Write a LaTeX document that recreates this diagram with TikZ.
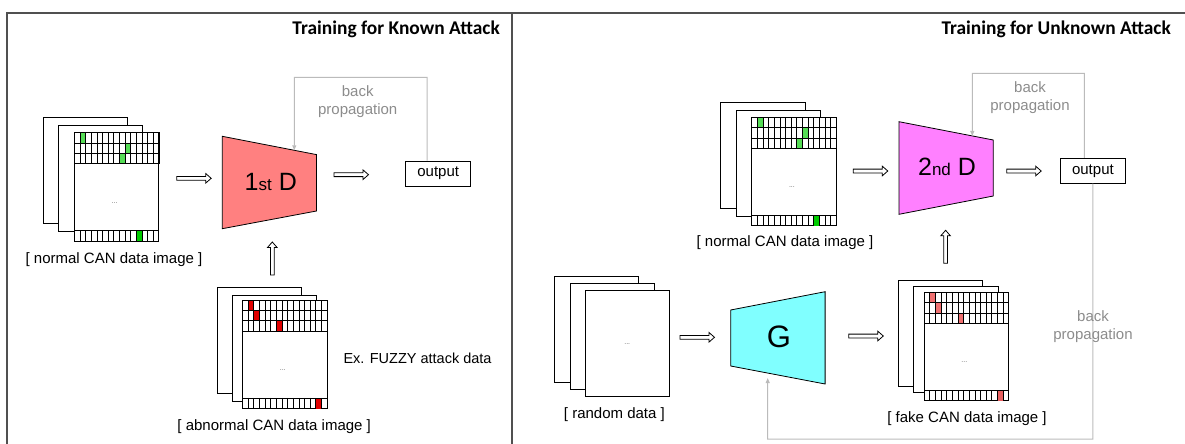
\documentclass[tikz,border=0pt]{standalone}
\usepackage{fontspec}
\setmainfont{Liberation Sans}
\newfontfamily\titlefont{Carlito}
\usetikzlibrary{calc,arrows.meta}
\definecolor{dOne}{HTML}{FF8080}
\definecolor{dTwo}{HTML}{FF80FF}
\definecolor{gCol}{HTML}{80FFFF}
\definecolor{bpline}{HTML}{BBBBBB}
\definecolor{bptext}{HTML}{8C8C8C}
\definecolor{frameCol}{HTML}{505050}
\definecolor{gTop}{HTML}{55DD55}
\definecolor{gBot}{HTML}{00CC00}
\definecolor{rTop}{HTML}{E00000}
\definecolor{rBot}{HTML}{E00000}
\definecolor{fTop}{HTML}{F07070}
\definecolor{fBot}{HTML}{E86060}
\tikzset{
  sheet/.style={draw=black, fill=white, line width=0.7pt},
  frontsheet/.style={sheet, minimum width=84.5pt, inner sep=0pt, outer sep=0pt},
  gridline/.style={draw=black, line width=0.6pt},
  dots/.style={font=\fontsize{7}{7}\selectfont, text=black!60, inner sep=0pt},
  lbl/.style={font=\fontsize{15}{18}\selectfont, text=black, inner sep=0pt},
  bp/.style={draw=bpline, line width=1pt},
  bptip/.style={-{Triangle[length=5pt,width=4pt]}},
  bptxt/.style={font=\fontsize{15}{18}\selectfont, text=bptext, align=center, inner sep=0pt},
  outbox/.style={draw=black, fill=white, line width=0.8pt, minimum width=65pt, minimum height=25pt, inner sep=0pt, font=\fontsize{15}{18}\selectfont},
  net/.style={draw=black, line width=0.8pt},
  frm/.style={draw=frameCol, line width=1.5pt},
  title/.style={font=\titlefont\bfseries\fontsize{19.4}{21}\selectfont, inner sep=0pt},
  dfont/.style={font=\fontsize{25}{25}\selectfont, inner sep=0pt},
  pics/rarrow/.style={code={\draw[net, fill=white, line join=miter] (0,-1.9) -- (29,-1.9) -- (29,-4.8) -- (34.5,0) -- (29,4.8) -- (29,1.9) -- (0,1.9) -- cycle;}},
  pics/uarrow/.style={code={\draw[net, fill=white, line join=miter] (-1.9,0) -- (-1.9,-27.5) -- (-4.8,-27.5) -- (0,-33) -- (4.8,-27.5) -- (1.9,-27.5) -- (1.9,0) -- cycle;}},
}
% name, back x, back y, mid x, mid y, front x, front y, front height
\newcommand{\canstack}[8]{%
  \draw[sheet] (#2,#3) rectangle ++(84.5,106);
  \draw[sheet] (#4,#5) rectangle ++(84.5,106);
  \node[frontsheet, minimum height=#8pt, anchor=north west] (#1) at (#6,#7) {};
}
% name, top colour, bottom colour, col row1, col row2, col row3, col bottom row
\newcommand{\cangrid}[7]{%
  \begin{scope}[shift={(#1.north west)}]
    \def\cellw{5.6333}
    \fill[#2] ({#4*\cellw},0) rectangle ++(\cellw,10.3);
    \fill[#2] ({#5*\cellw},10.3) rectangle ++(\cellw,10.3);
    \fill[#2] ({#6*\cellw},20.6) rectangle ++(\cellw,10.3);
    \fill[#3] ({#7*\cellw},97.8) rectangle ++(\cellw,10.7);
    \draw[gridline] (0,0) rectangle (84.5,30.9);
    \draw[gridline] (0,10.3) -- (84.5,10.3) (0,20.6) -- (84.5,20.6) (0,97.8) -- (84.5,97.8);
    \foreach \i in {1,...,14} {\draw[gridline] ({\i*\cellw},0) -- ++(0,30.9) ({\i*\cellw},97.8) -- ++(0,10.7);}
  \end{scope}
  \node[dots] at ($(#1.center)+(-2,16)$) {...};
}
\begin{document}
\begin{tikzpicture}[x=1pt, y=-1pt]
\useasboundingbox (0,0) rectangle (1185,444);
% frame
\draw[frm] (7,446) -- (7,13) -- (1187,13);
\draw[frm] (512,13) -- (512,446);
% titles
\node[title, anchor=base east] (t1) at (500,35) {Training for Known Attack};
\node[title, anchor=base east] (t2) at (1171,35) {Training for Unknown Attack};

% ---------- left panel ----------
\canstack{nL}{43}{117.3}{58.3}{125.3}{74.3}{132.5}{108.5}
\cangrid{nL}{gTop}{gBot}{1}{9}{8}{11}
\node[lbl] (l1) at (114,259.3) {[ normal CAN data image ]};

\canstack{nA}{217}{287.3}{232.3}{295}{242.5}{300}{108.5}
\cangrid{nA}{rTop}{rBot}{1}{2}{6}{13}
\node[lbl] (l2) at (274.2,426.7) {[ abnormal CAN data image ]};
\node[lbl, anchor=west, font=\fontsize{14.5}{17}\selectfont] (l3) at (343.3,358.3) {Ex. FUZZY attack data};

\draw[net, fill=dOne] (222.3,136.3) coordinate (d1tl) -- (316.5,154.6) coordinate (d1tr)
  -- (316.5,211) coordinate (d1br) -- (222.3,228.7) coordinate (d1bl) -- cycle;
\node[dfont] (d1) at (270.8,181.7) {1{\fontsize{17}{17}\selectfont st} D};
\node[outbox] (o1) at (438.2,173.5) {output};

\pic (a1) at (176.7,178.3) {rarrow};
\pic (a2) at (334,174.7) {rarrow};
\pic (a3) at (272.3,275) {uarrow};

\coordinate (k1) at (294.3,77.3);
\draw[bp, bptip] ([xshift=-11pt]o1.north) |- (k1) -- ($(d1tl)!0.764!(d1tr)$);
\node[bptxt] (bpt1) at (357.7,101.7) {back\\propagation};

% ---------- right panel ----------
\canstack{nR}{720.7}{102.7}{736}{110.7}{751.7}{117.3}{108.5}
\cangrid{nR}{gTop}{gBot}{1}{9}{8}{11}
\node[lbl] (l4) at (785,242.7) {[ normal CAN data image ]};

\canstack{nRand}{554}{276}{570}{283.3}{585}{290.7}{106}
\node[dots] at (nRand.center) {...};
\node[lbl] (l5) at (614.4,414.5) {[ random data ]};

\canstack{nF}{898.3}{280}{913.8}{286.7}{924.1}{292.3}{108.5}
\cangrid{nF}{fTop}{fBot}{1}{2}{6}{13}
\node[lbl] (l6) at (967,419) {[ fake CAN data image ]};

\draw[net, fill=dTwo] (899,121.7) coordinate (d2tl) -- (993.3,140) coordinate (d2tr)
  -- (993.3,196) coordinate (d2br) -- (899,214.3) coordinate (d2bl) -- cycle;
\node[dfont] (d2) at (947,166.7) {2{\fontsize{17}{17}\selectfont nd} D};

\draw[net, fill=gCol] (730.7,310) coordinate (gtl) -- (825.1,291.7) coordinate (gtr)
  -- (825.1,384) coordinate (gbr) -- (730.7,366) coordinate (gbl) -- cycle;
\node[font=\fontsize{31}{31}\selectfont, inner sep=0pt] (g) at (779,336.7) {G};

\node[outbox] (o2) at (1092.9,170.8) {output};

\pic (a4) at (853.3,171) {rarrow};
\pic (a5) at (1006.7,171) {rarrow};
\pic (a6) at (680,337.3) {rarrow};
\pic (a7) at (848.8,336) {rarrow};
\pic (a8) at (945.6,263.3) {uarrow};

\coordinate (k2) at (972.3,73.3);
\draw[bp, bptip] ([xshift=-8.6pt]o2.north) |- (k2) -- ($(d2tl)!0.777!(d2tr)$);
\node[bptxt] (bpt2) at (1030,97.2) {back\\propagation};

\coordinate (k3) at (767.7,439);
\draw[bp, bptip, shorten >=5pt] (o2.south) |- (k3) -- ($(gbl)!0.392!(gbr)$);
\node[bptxt] (bpt3) at (1093,326.3) {back\\propagation};
\end{tikzpicture}
\end{document}
